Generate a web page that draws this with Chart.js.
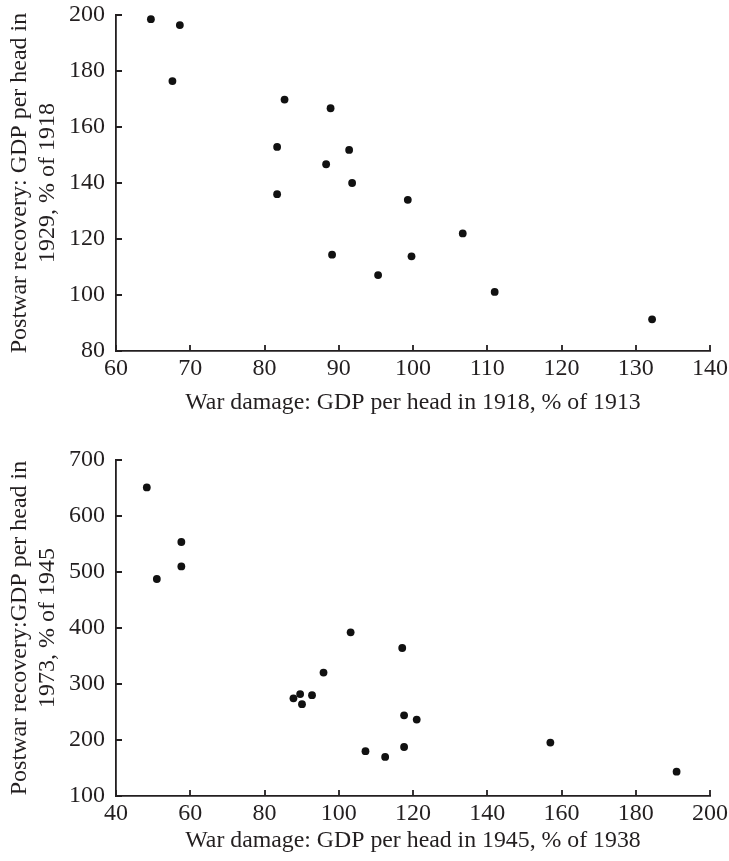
<!DOCTYPE html>
<html>
<head>
<meta charset="utf-8">
<script src="https://cdn.jsdelivr.net/npm/chart.js@4.4.0/dist/chart.umd.min.js"></script>
<style>
  html, body { margin: 0; padding: 0; background: #ffffff; }
  #wrap { position: relative; width: 729px; height: 861px; overflow: hidden; background: #fff; }
  canvas { position: absolute; left: 0; }
  #c1 { top: 0; }
  #c2 { top: 430px; }
</style>
</head>
<body>
<div id="wrap">
  <canvas id="c1" width="729" height="430"></canvas>
  <canvas id="c2" width="729" height="431"></canvas>
</div>
<script>
// ---- Data: post-WWI (top panel) ----
const ww1Damage   = [64.7, 68.6, 67.6, 82.7, 88.9, 81.7, 91.4, 88.3, 91.8, 81.7, 99.3, 106.7, 89.1, 99.8, 95.3, 111.0, 132.2];
const ww1Recovery = [198.5, 196.4, 176.4, 169.8, 166.7, 152.9, 151.8, 146.7, 140.0, 136.0, 134.0, 122.0, 114.4, 113.8, 107.1, 101.1, 91.3];

// ---- Data: post-WWII (bottom panel) ----
const ww2Damage   = [48.3, 57.6, 57.6, 51.0, 103.2, 117.1, 95.9, 87.8, 89.6, 90.1, 92.8, 117.6, 121.0, 157.0, 107.2, 112.5, 117.6, 191.0];
const ww2Recovery = [651, 553.6, 510, 487.5, 392.3, 364.3, 320.4, 274.5, 282, 264, 280, 244.1, 236.4, 195.4, 180, 169.7, 187.5, 143.5];

// ---- Axis definitions ----
const topX = { min: 60, max: 140, step: 10, title: "War damage: GDP per head in 1918, % of 1913" };
const topY = { min: 80, max: 200, step: 20, title: ["Postwar recovery: GDP per head in", "1929, % of 1918"] };
const botX = { min: 40, max: 200, step: 20, title: "War damage: GDP per head in 1945, % of 1938" };
const botY = { min: 100, max: 700, step: 100, title: ["Postwar recovery:GDP per head in", "1973, % of 1945"] };

const INK = '#231f20';
const FONT = "'Liberation Serif', 'Times New Roman', serif";

const innerTicks = {
  id: 'innerTicks',
  afterDraw(chart) {
    const { ctx, chartArea, scales } = chart;
    const len = 6;
    ctx.save();
    ctx.strokeStyle = INK;
    ctx.lineWidth = 1.8;
    ctx.beginPath();
    scales.x.ticks.forEach(t => {
      const px = Math.round(scales.x.getPixelForValue(t.value));
      ctx.moveTo(px, chartArea.bottom);
      ctx.lineTo(px, chartArea.bottom - len);
    });
    scales.y.ticks.forEach(t => {
      const py = Math.round(scales.y.getPixelForValue(t.value));
      ctx.moveTo(chartArea.left, py);
      ctx.lineTo(chartArea.left + len, py);
    });
    ctx.stroke();
    ctx.restore();
  }
};

function makeChart(id, xs, ys, ax, ay, cfg) {
  const pts = xs.map((v, i) => ({ x: v, y: ys[i] }));
  return new Chart(document.getElementById(id), {
    type: 'scatter',
    data: {
      datasets: [{
        data: pts,
        pointRadius: 3.9,
        pointHoverRadius: 3.9,
        pointBackgroundColor: '#111',
        pointBorderWidth: 0,
        showLine: false
      }]
    },
    options: {
      responsive: false,
      animation: false,
      devicePixelRatio: 1,
      layout: { padding: { top: cfg.padTop, right: 19, left: 0, bottom: 0 } },
      plugins: { legend: { display: false }, tooltip: { enabled: false } },
      scales: {
        x: {
          type: 'linear',
          min: ax.min, max: ax.max,
          afterFit: s => { s.height = cfg.xHeight; s.paddingLeft = 0; s.paddingRight = 0; },
          afterBuildTicks: s => {
            const t = [];
            for (let v = ax.min; v <= ax.max + 1e-9; v += ax.step) t.push({ value: v });
            s.ticks = t;
          },
          grid: { display: false, drawTicks: false },
          border: { display: true, color: INK, width: 1.8 },
          ticks: {
            color: INK, padding: 3,
            font: { family: FONT, size: 24 },
            maxRotation: 0, autoSkip: false
          },
          title: {
            display: true, text: ax.title, color: INK,
            font: { family: FONT, size: 23.8, lineHeight: 1.2 },
            padding: { top: 0, bottom: cfg.xTitlePad }
          }
        },
        y: {
          type: 'linear',
          min: ay.min, max: ay.max,
          afterFit: s => { s.width = 116; s.paddingTop = 0; s.paddingBottom = 0; },
          afterBuildTicks: s => {
            const t = [];
            for (let v = ay.min; v <= ay.max + 1e-9; v += ay.step) t.push({ value: v });
            s.ticks = t;
          },
          grid: { display: false, drawTicks: false },
          border: { display: true, color: INK, width: 1.8 },
          ticks: {
            color: INK, padding: 11,
            font: { family: FONT, size: 24 },
            autoSkip: false
          },
          title: {
            display: true, text: ay.title, color: INK,
            font: { family: FONT, size: 24, lineHeight: 1.15 },
            padding: { top: 6, bottom: 0 }
          }
        }
      }
    },
    plugins: [innerTicks]
  });
}

makeChart('c1', ww1Damage, ww1Recovery, topX, topY, { padTop: 15, xHeight: 79, xTitlePad: 13 });
makeChart('c2', ww2Damage, ww2Recovery, botX, botY, { padTop: 30, xHeight: 65, xTitlePad: 6 });
</script>
</body>
</html>
